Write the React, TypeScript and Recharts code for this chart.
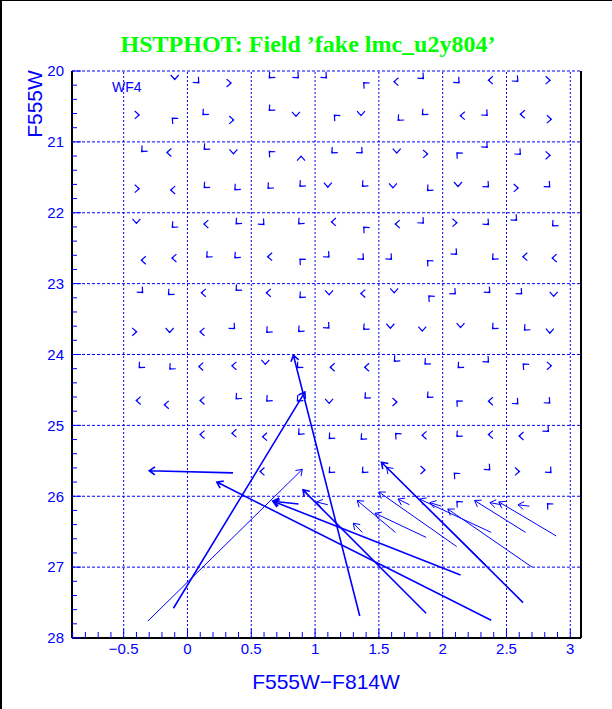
import React from 'react';
import { ScatterChart, Scatter, XAxis, YAxis, ReferenceLine } from 'recharts';

// Long recovery vectors: [inputColor, inputMag, outputColor, outputMag]
const strongVectors: number[][] = [
  [1.35, 27.69, 0.83, 24.01],
  [-0.11, 27.58, 0.92, 24.53],
  [0.357, 25.67, -0.3, 25.64],
  [0.87, 26.11, 0.67, 26.07],
  [2.38, 27.75, 0.23, 25.8],
  [2.14, 27.11, 0.67, 26.07],
  [1.87, 27.65, 0.905, 25.91],
  [2.63, 27.5, 1.52, 25.52],
];

const faintVectors: number[][] = [
  [-0.31, 27.76, 0.9, 25.62],
  [2.34, 26.97, 1.56, 25.59],
  [2.7, 27.0, 2.04, 26.18],
  [2.89, 26.56, 2.44, 26.08],
  [2.65, 26.51, 2.25, 26.06],
  [2.38, 26.51, 1.82, 26.04],
  [1.87, 26.58, 1.47, 26.24],
  [1.63, 26.51, 1.33, 26.06],
  [1.37, 26.51, 1.3, 26.38],
  [2.11, 26.71, 1.5, 25.94],
  [1.74, 26.12, 1.65, 26.04],
  [1.99, 26.14, 1.9, 26.09],
  [2.46, 26.12, 2.37, 26.09],
  [2.68, 26.14, 2.59, 26.12],
  [1.1, 26.12, 1.01, 26.08],
];

// Bright fake stars: [inputColor, inputMag, direction of tiny shift]
const gridChevrons: [number, number, string][] = [
  [-0.1, 20.1, 'D'], [0.08, 20.15, 'DR'], [0.33, 20.17, 'R'], [0.65, 20.08, 'DL'], [0.86, 20.08, 'DR'], [1.08, 20.08, 'DR'], [1.39, 20.18, 'UL'], [1.63, 20.15, 'L'], [1.84, 20.09, 'DR'], [2.12, 20.15, 'DR'], [2.37, 20.13, 'L'], [2.58, 20.13, 'DR'], [2.83, 20.13, 'R'],
  [-0.39, 20.62, 'R'], [-0.11, 20.68, 'UL'], [0.13, 20.6, 'DL'], [0.35, 20.69, 'R'], [0.65, 20.54, 'DL'], [0.85, 20.62, 'D'], [1.16, 20.64, 'UL'], [1.36, 20.61, 'D'], [1.66, 20.68, 'DL'], [1.85, 20.6, 'DL'], [2.15, 20.63, 'L'], [2.34, 20.61, 'DR'], [2.62, 20.61, 'L'], [2.84, 20.68, 'R'],
  [-0.35, 21.12, 'DL'], [-0.15, 21.15, 'L'], [0.14, 21.09, 'DL'], [0.36, 21.15, 'D'], [0.65, 21.15, 'UL'], [0.89, 21.22, 'U'], [1.14, 21.14, 'DL'], [1.36, 21.14, 'DR'], [1.64, 21.14, 'D'], [1.87, 21.17, 'R'], [2.12, 21.17, 'UL'], [2.34, 21.06, 'DR'], [2.6, 21.16, 'DR'], [2.83, 21.19, 'R'],
  [-0.39, 21.66, 'R'], [-0.12, 21.68, 'L'], [0.14, 21.63, 'DL'], [0.38, 21.66, 'DL'], [0.64, 21.64, 'DL'], [0.89, 21.61, 'DL'], [1.1, 21.62, 'D'], [1.38, 21.61, 'DL'], [1.61, 21.63, 'D'], [1.89, 21.67, 'DL'], [2.12, 21.61, 'D'], [2.35, 21.62, 'DR'], [2.58, 21.65, 'R'], [2.83, 21.62, 'DR'],
  [-0.4, 22.13, 'D'], [-0.11, 22.19, 'DL'], [0.14, 22.16, 'L'], [0.39, 22.14, 'DL'], [0.59, 22.15, 'DR'], [0.88, 22.14, 'DL'], [1.14, 22.13, 'L'], [1.39, 22.22, 'UL'], [1.64, 22.16, 'L'], [1.84, 22.13, 'DR'], [2.1, 22.14, 'R'], [2.35, 22.15, 'DR'], [2.57, 22.09, 'DR'], [2.87, 22.17, 'DL'],
  [-0.35, 22.67, 'L'], [-0.11, 22.64, 'L'], [0.16, 22.61, 'DL'], [0.38, 22.62, 'DL'], [0.64, 22.62, 'L'], [0.89, 22.67, 'UL'], [1.1, 22.61, 'DR'], [1.37, 22.64, 'DR'], [1.59, 22.64, 'DR'], [1.89, 22.69, 'UL'], [2.1, 22.57, 'DR'], [2.4, 22.64, 'DL'], [2.64, 22.62, 'L'], [2.87, 22.64, 'L'],
  [-0.36, 23.11, 'DR'], [-0.14, 23.14, 'DL'], [0.12, 23.13, 'L'], [0.39, 23.08, 'DL'], [0.63, 23.13, 'L'], [0.89, 23.18, 'DL'], [1.11, 23.14, 'D'], [1.37, 23.14, 'L'], [1.62, 23.11, 'D'], [1.9, 23.19, 'UL'], [2.09, 23.13, 'DR'], [2.36, 23.11, 'DR'], [2.61, 23.13, 'DR'], [2.87, 23.16, 'D'],
  [-0.41, 23.68, 'R'], [-0.14, 23.67, 'D'], [0.11, 23.68, 'L'], [0.36, 23.62, 'DR'], [0.63, 23.67, 'DL'], [0.88, 23.66, 'DL'], [1.1, 23.61, 'DR'], [1.39, 23.63, 'DL'], [1.59, 23.61, 'D'], [1.84, 23.65, 'D'], [2.14, 23.6, 'D'], [2.4, 23.62, 'DL'], [2.65, 23.64, 'DL'], [2.84, 23.68, 'D'],
  [-0.37, 24.17, 'DL'], [-0.13, 24.19, 'DL'], [0.1, 24.17, 'L'], [0.36, 24.16, 'L'], [0.61, 24.12, 'D'], [0.87, 24.17, 'DL'], [1.13, 24.18, 'L'], [1.4, 24.18, 'L'], [1.63, 24.08, 'DL'], [1.87, 24.12, 'DL'], [2.13, 24.17, 'DL'], [2.35, 24.09, 'DR'], [2.64, 24.15, 'UL'], [2.84, 24.16, 'R'],
  [-0.39, 24.65, 'L'], [-0.17, 24.71, 'L'], [0.11, 24.65, 'L'], [0.39, 24.61, 'DL'], [0.63, 24.64, 'DL'], [0.87, 24.64, 'DL'], [1.11, 24.67, 'D'], [1.4, 24.6, 'DL'], [1.63, 24.67, 'R'], [1.89, 24.59, 'DL'], [2.12, 24.67, 'UL'], [2.37, 24.66, 'L'], [2.58, 24.68, 'DR'], [2.83, 24.67, 'DR'],
  [0.11, 25.13, 'L'], [0.36, 25.11, 'L'], [0.6, 25.16, 'L'], [0.88, 25.11, 'DL'], [1.12, 25.17, 'DL'], [1.37, 25.18, 'DL'], [1.64, 25.13, 'UL'], [1.85, 25.14, 'L'], [2.12, 25.14, 'DL'], [2.37, 25.13, 'L'], [2.61, 25.15, 'L'], [2.82, 25.07, 'DR'],
  [0.58, 25.65, 'L'], [1.12, 25.65, 'DL'], [1.38, 25.65, 'DL'], [1.85, 25.63, 'R'], [2.1, 25.69, 'UL'], [2.36, 25.61, 'DR'], [2.59, 25.65, 'R'], [2.84, 25.65, 'DR'],
  [2.12, 26.09, 'UL'], [2.83, 26.12, 'UL'],
];

// Tiny (color, mag) shifts for each direction code
const chevronShift: Record<string, [number, number]> = {
  L: [-0.012, 0], R: [0.012, 0], D: [0, 0.02], U: [0, -0.02],
  DL: [-0.009, 0.016], DR: [0.009, 0.016], UL: [-0.009, -0.016], UR: [0.009, -0.016],
};

const xLabelTicks = [-0.5, 0, 0.5, 1, 1.5, 2, 2.5, 3];
const yLabelTicks = [20, 21, 22, 23, 24, 25, 26, 27, 28];
const xMinorTicks = Array.from({ length: 40 }, (_, i) => Math.round((-0.9 + i * 0.1) * 10) / 10);
const yMinorTicks = Array.from({ length: 41 }, (_, i) => Math.round((20 + i * 0.2) * 10) / 10);

const BLUE = '#0000ff';
const SANS = '"Liberation Sans", Arial, sans-serif';

const toPoints = (vs: number[][]) => vs.flatMap(v => [{ x: v[0], y: v[1] }, { x: v[2], y: v[3] }]);
const chevronPoints = gridChevrons.flatMap(([x, y, d]) => {
  const s = chevronShift[d];
  return [{ x, y }, { x: x + s[0], y: y + s[1] }];
});

function ArrowLayer(props: any) {
  const pts = props.points || [];
  const w = props.w ?? 1;
  const hl = props.hl ?? 6;
  const sp = props.sp ?? 0.75;
  const els: any[] = [];
  for (let i = 0; i + 1 < pts.length; i += 2) {
    const a = pts[i];
    const b = pts[i + 1];
    const ang = Math.atan2(b.y - a.y, b.x - a.x);
    const b1x = b.x - hl * Math.cos(ang - sp);
    const b1y = b.y - hl * Math.sin(ang - sp);
    const b2x = b.x - hl * Math.cos(ang + sp);
    const b2y = b.y - hl * Math.sin(ang + sp);
    els.push(
      <path
        key={i}
        d={`M${a.x},${a.y}L${b.x},${b.y}M${b1x},${b1y}L${b.x},${b.y}L${b2x},${b2y}`}
        stroke={BLUE}
        strokeWidth={w}
        fill="none"
      />
    );
  }
  return <g>{els}</g>;
}

const isMult = (v: number, step: number) => Math.abs(v / step - Math.round(v / step)) < 1e-6;
const fmt = (v: number) => (v < 0 ? '\u2212' + Math.abs(v) : String(v));

const XTick = (p: any) => {
  const v = p.payload.value;
  const major = isMult(v, 0.5);
  return (
    <g>
      <line x1={p.x} x2={p.x} y1={p.y} y2={p.y - (major ? 9 : 6)} stroke={BLUE} strokeWidth={1} />
      {major && (
        <text x={p.x} y={p.y + 15.5} textAnchor="middle" fill={BLUE} fontSize={15} fontFamily={SANS}>
          {fmt(v)}
        </text>
      )}
    </g>
  );
};

const YTick = (p: any) => {
  const v = p.payload.value;
  const major = isMult(v, 1);
  return (
    <g>
      <line x1={p.x} x2={p.x + (major ? 9 : 5)} y1={p.y} y2={p.y} stroke={BLUE} strokeWidth={1} />
      {major && (
        <text x={p.x - 8} y={p.y + 5.3} textAnchor="end" fill={BLUE} fontSize={15} fontFamily={SANS}>
          {fmt(v)}
        </text>
      )}
    </g>
  );
};

const noShape = () => <g />;

export default function App() {
  return (
    <div style={{ position: 'absolute', left: 0, top: 0, width: 612, height: 709, background: '#fff' }}>
      <ScatterChart width={612} height={709} margin={{ top: 71, right: 30, bottom: 70, left: 71 }}>
        <XAxis
          dataKey="x"
          type="number"
          domain={[-0.905, 3.084]}
          ticks={xMinorTicks}
          interval={0}
          allowDataOverflow
          height={1}
          tickSize={0}
          tickMargin={0}
          tickLine={false}
          tick={(p: any) => <XTick {...p} />}
          axisLine={{ stroke: '#000', strokeWidth: 2 }}
        />
        <YAxis
          dataKey="y"
          type="number"
          domain={[20, 28]}
          reversed
          ticks={yMinorTicks}
          interval={0}
          allowDataOverflow
          width={1}
          tickSize={0}
          tickMargin={0}
          tickLine={false}
          tick={(p: any) => <YTick {...p} />}
          axisLine={{ stroke: '#000', strokeWidth: 2 }}
        />
        <YAxis
          yAxisId="right"
          orientation="right"
          type="number"
          domain={[20, 28]}
          reversed
          width={1}
          tick={false}
          tickLine={false}
          axisLine={{ stroke: '#000', strokeWidth: 2 }}
        />
        {xLabelTicks.map(v => (
          <ReferenceLine key={'gx' + v} x={v} stroke={BLUE} strokeWidth={1} strokeDasharray="2 2" />
        ))}
        {yLabelTicks.filter(v => v < 28).map(v => (
          <ReferenceLine key={'gy' + v} y={v} stroke={BLUE} strokeWidth={1} strokeDasharray="3 2" />
        ))}
        <Scatter
          data={chevronPoints}
          isAnimationActive={false}
          shape={noShape}
          line={<ArrowLayer w={1.2} hl={6} sp={0.72} />}
        />
        <Scatter
          data={toPoints(faintVectors)}
          isAnimationActive={false}
          shape={noShape}
          line={<ArrowLayer w={1} hl={7} sp={0.6} />}
        />
        <Scatter
          data={toPoints(strongVectors)}
          isAnimationActive={false}
          shape={noShape}
          line={<ArrowLayer w={1.6} hl={7} sp={0.6} />}
        />
      </ScatterChart>
      <svg width={612} height={709} style={{ position: 'absolute', left: 0, top: 0, pointerEvents: 'none' }}>
        <line x1={0} y1={0.5} x2={612} y2={0.5} stroke="#000" strokeWidth={1} />
        <line x1={1} y1={0} x2={1} y2={709} stroke="#000" strokeWidth={2} />
        <text x={308} y={52} textAnchor="middle" fill="#00ff00" fontSize={24} fontWeight="bold" fontFamily='"Liberation Serif", "Times New Roman", serif'>
          HSTPHOT: Field ’fake lmc_u2y804’
        </text>
        <text x={112} y={92} fill={BLUE} fontSize={14} fontFamily={SANS}>WF4</text>
        <text x={326} y={689} textAnchor="middle" fill={BLUE} fontSize={21} fontFamily={SANS}>
          F555W−F814W
        </text>
        <text x={0} y={0} transform="translate(42,104) rotate(-90)" textAnchor="middle" fill={BLUE} fontSize={21} fontFamily={SANS}>
          F555W
        </text>
      </svg>
    </div>
  );
}
